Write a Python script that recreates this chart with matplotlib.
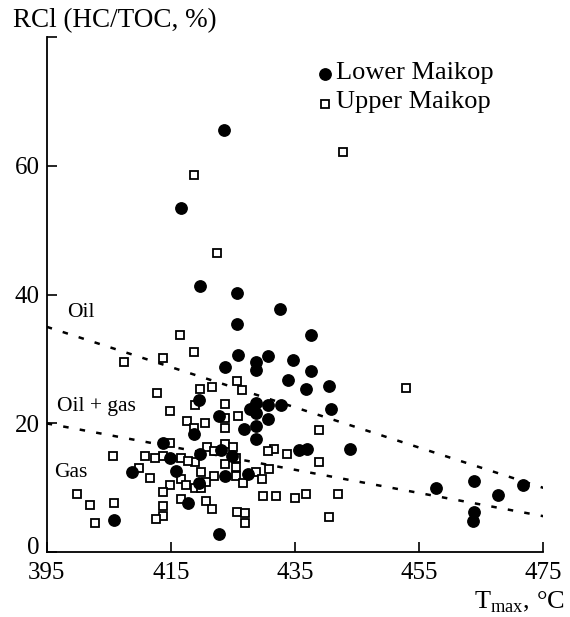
import numpy as np
import matplotlib
matplotlib.use("Agg")
import matplotlib.pyplot as plt
import matplotlib.transforms as mtransforms

plt.rcParams['font.family'] = ['Liberation Serif', 'DejaVu Serif']
plt.rcParams['mathtext.fontset'] = 'custom'
plt.rcParams['mathtext.rm'] = 'Liberation Serif'

# Lower Maikop (filled circles): Tmax, RCl
lower_tmax = [423.6, 416.6, 419.75, 425.7, 432.6, 425.7, 437.6, 425.8, 430.7, 434.7,
              428.7, 423.8, 428.7, 437.6, 433.8, 440.5, 436.7, 419.6, 428.8, 430.7,
              432.8, 427.8, 440.8, 428.7, 422.8, 430.7, 428.7, 426.8, 418.7, 428.7,
              413.7, 443.9, 435.6, 437.0, 419.75, 423.1, 424.8, 414.8, 415.9, 408.8,
              427.5, 423.8, 419.6, 417.8, 405.8, 422.7, 457.8, 463.8, 463.8, 463.7,
              467.7, 471.8]
lower_rcl = [65.5, 53.4, 41.3, 40.2, 37.7, 35.4, 33.8, 30.6, 30.4, 29.8,
             29.5, 28.8, 28.3, 28.2, 26.8, 25.8, 25.4, 23.6, 23.1, 22.8,
             22.8, 22.2, 22.2, 21.6, 21.2, 20.7, 19.6, 19.1, 18.4, 17.6,
             17.0, 16.1, 15.9, 16.1, 15.3, 15.9, 15.0, 14.6, 12.6, 12.4,
             12.2, 11.8, 10.7, 7.7, 5.0, 2.8, 9.9, 11.1, 6.2, 4.9,
             8.9, 10.5]

# Upper Maikop (open squares): Tmax, RCl
upper_tmax = [442.7, 418.7, 422.5, 416.5, 418.7, 407.5, 413.7, 425.7, 421.7, 419.7,
              426.5, 452.9, 412.8, 418.9, 423.8, 414.8, 423.7, 425.8, 417.6, 420.5,
              418.8, 423.7, 438.8, 414.8, 423.7, 420.8, 425.0, 421.9, 431.7, 430.7,
              433.7, 405.7, 410.8, 413.7, 412.4, 416.7, 425.5, 418.9, 417.8, 423.7,
              438.9, 425.5, 409.8, 430.8, 419.9, 428.8, 425.5, 421.9, 411.6, 416.7,
              429.7, 420.6, 414.9, 417.5, 426.7, 418.9, 419.8, 413.7, 399.9, 429.8,
              431.9, 436.8, 442.0, 435.0, 416.7, 401.9, 405.8, 420.6, 413.8, 421.7,
              425.7, 426.9, 413.8, 412.6, 440.5, 402.8, 426.9]
upper_rcl = [62.2, 58.5, 46.5, 33.7, 31.1, 29.5, 30.2, 26.6, 25.6, 25.4,
             25.2, 25.5, 24.7, 22.9, 23.0, 21.9, 20.8, 21.1, 20.3, 20.0,
             19.3, 19.3, 19.0, 17.0, 16.8, 16.3, 16.3, 15.7, 16.1, 15.7,
             15.3, 14.9, 15.0, 14.9, 14.6, 14.6, 14.7, 14.0, 14.1, 13.7,
             14.0, 13.2, 13.0, 12.9, 12.4, 12.4, 11.8, 11.8, 11.5, 11.3,
             11.3, 10.9, 10.5, 10.4, 10.7, 9.9, 9.9, 9.3, 9.0, 8.8,
             8.7, 9.1, 9.1, 8.4, 8.3, 7.4, 7.7, 8.0, 7.2, 6.7,
             6.3, 6.1, 5.7, 5.2, 5.5, 4.5, 4.5]

# boundary lines (Tmax ends, RCl ends)
line_x = [395, 475]
oil_line = [35.0, 10.0]
gas_line = [20.0, 5.6]

fig = plt.figure(figsize=(5.70, 6.17), dpi=100)
ax = fig.add_axes([0.082, 0.105, 0.871, 0.835])

ax.plot(line_x, oil_line, color='black', lw=1.8, linestyle=(0, (2.2, 4.5)))
ax.plot(line_x, gas_line, color='black', lw=1.8, linestyle=(0, (2.2, 4.5)))

ax.plot(upper_tmax, upper_rcl, linestyle='none', marker='s', ms=6.2,
        mfc='white', mec='black', mew=1.3, zorder=3)
ax.plot(lower_tmax, lower_rcl, linestyle='none', marker='o', ms=8.2,
        mfc='black', mec='black', zorder=4)

ax.set_xlim(395, 475)
ax.set_ylim(0, 80)
ax.set_xticks([395, 415, 435, 455, 475])
ax.set_yticks([0, 20, 40, 60, 80])
ax.set_yticklabels(['0', '20', '40', '60', ''])
ax.tick_params(direction='in', length=7, width=1.2, labelsize=18)
ax.tick_params(axis='x', pad=7)
ax.tick_params(axis='y', pad=5)
for s in ['top', 'right']:
    ax.spines[s].set_visible(False)
for s in ['left', 'bottom']:
    ax.spines[s].set_linewidth(1.3)

# lift the "0" label a little so it clears "395", as in the original
zero_lbl = ax.get_yticklabels()[0]
zero_lbl.set_transform(zero_lbl.get_transform() +
                       mtransforms.ScaledTranslation(0, 5 / 72, fig.dpi_scale_trans))

# region labels
ax.text(400.5, 37.3, 'Oil', fontsize=15.5, ha='center', va='center')
ax.text(403.0, 22.6, 'Oil + gas', fontsize=15.5, ha='center', va='center')
ax.text(398.8, 12.4, 'Gas', fontsize=15.5, ha='center', va='center')

# legend drawn manually
ax.plot([439.8], [74.2], marker='o', ms=8.2, color='black', clip_on=False)
ax.text(441.6, 74.4, 'Lower Maikop', fontsize=19, va='center', ha='left')
ax.plot([439.8], [69.6], marker='s', ms=6.2, mfc='white', mec='black', mew=1.3, clip_on=False)
ax.text(441.6, 69.9, 'Upper Maikop', fontsize=19, va='center', ha='left')

fig.text(0.022, 0.967, 'RCl (HC/TOC, %)', fontsize=19.5, ha='left', va='center')
fig.text(0.99, 0.024, r'T$_{\mathrm{max}}$, °C', fontsize=19, ha='right', va='center')

fig.savefig('out.png', dpi=100)
